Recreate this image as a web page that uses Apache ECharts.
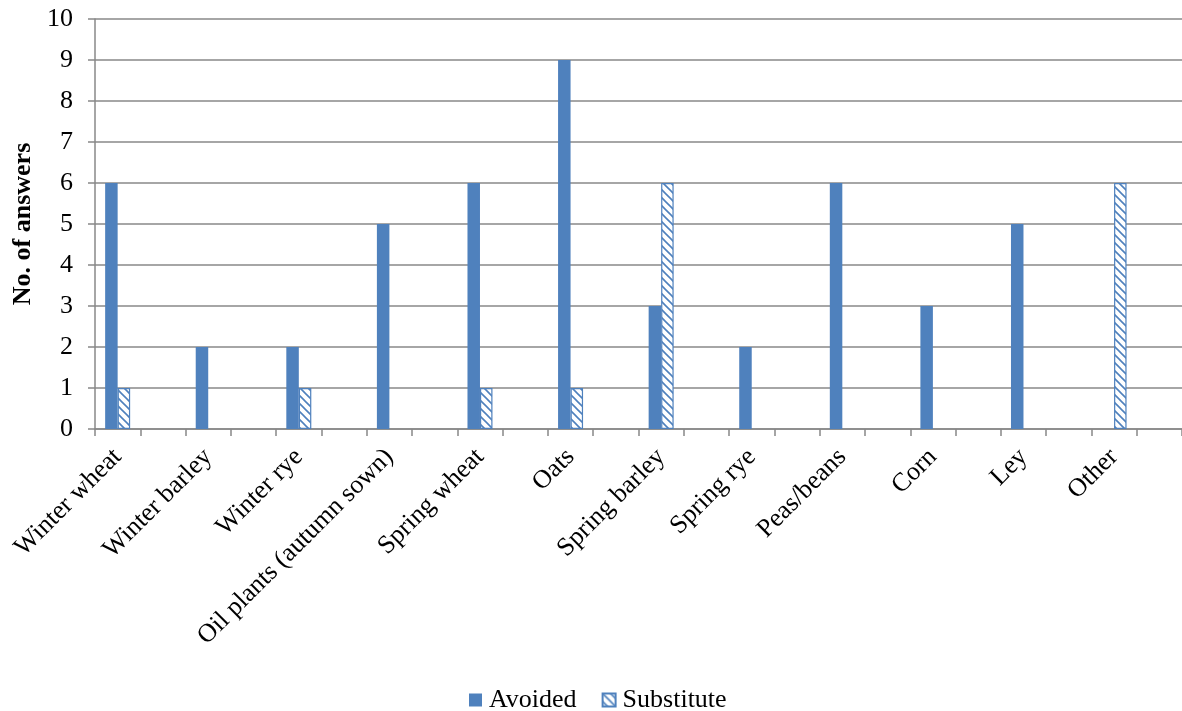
<!DOCTYPE html>
<html>
<head>
<meta charset="utf-8">
<script src="https://cdn.jsdelivr.net/npm/echarts@6/dist/echarts.min.js"></script>
<style>
html,body{margin:0;padding:0;background:#fff;}
#chart{width:1182px;height:711px;}
</style>
</head>
<body>
<div id="chart"></div>
<script>
var categories = ['Winter wheat','Winter barley','Winter rye','Oil plants (autumn sown)','Spring wheat','Oats','Spring barley','Spring rye','Peas/beans','Corn','Ley','Other'];
var avoided    = [6, 2, 2, 5, 6, 9, 3, 2, 6, 3, 5, 0];
var substitute = [1, 0, 1, 0, 1, 1, 6, 0, 0, 0, 0, 6];
var yTicks = [0,1,2,3,4,5,6,7,8,9,10];

// Axis has a blank slot after each labelled category (as in the source chart);
// zero answers draw no bar.
var axisCats = [], avData = [], subData = [];
categories.forEach(function(c, i){
  axisCats.push(c); axisCats.push('');
  avData.push(avoided[i] || null); avData.push(null);
  subData.push(substitute[i] || null); subData.push(null);
});

var blue = '#4F81BD';
var pc = document.createElement('canvas');
pc.width = 8; pc.height = 8;
var ctx = pc.getContext('2d');
ctx.fillStyle = '#fff'; ctx.fillRect(0,0,8,8);
ctx.strokeStyle = blue; ctx.lineWidth = 1.6;
ctx.beginPath();
ctx.moveTo(-2,-2); ctx.lineTo(10,10);
ctx.moveTo(-10,-2); ctx.lineTo(2,10);
ctx.moveTo(6,-2); ctx.lineTo(18,10);
ctx.stroke();

var font = 'Liberation Serif';
var fs = 26;
var chart = echarts.init(document.getElementById('chart'), null, {renderer:'canvas'});
chart.setOption({
  animation: false,
  textStyle: {fontFamily: font},
  grid: {left: 95, width: 1089, top: 19, height: 410, containLabel: false},
  legend: {
    top: 682, left: 464,
    itemWidth: 13, itemHeight: 13, itemGap: 25,
    textStyle: {fontFamily: font, fontSize: fs, color: '#000', padding: [0,0,0,2]},
    data: [{name:'Avoided', icon:'rect'}, {name:'Substitute', icon:'rect'}]
  },
  xAxis: {
    type: 'category',
    data: axisCats,
    axisLine: {lineStyle: {color: '#888', width: 1.5}},
    axisTick: {show: true, interval: 0, length: 7, lineStyle: {color: '#888', width: 1.5}},
    axisLabel: {interval: 0, rotate: 45, margin: 24, fontFamily: font, fontSize: fs, color: '#000'},
    splitLine: {show: false}
  },
  yAxis: {
    type: 'value',
    min: 0, max: 10, interval: 1,
    name: 'No. of answers',
    nameLocation: 'middle',
    nameGap: 57,
    nameTextStyle: {fontFamily: font, fontSize: fs, fontWeight: 'bold', color: '#000'},
    axisLine: {show: true, lineStyle: {color: '#888', width: 1.5}},
    axisTick: {show: true, length: 7, lineStyle: {color: '#888', width: 1.5}},
    axisLabel: {margin: 22, fontFamily: font, fontSize: fs, color: '#000',
      formatter: function(v){ return yTicks.indexOf(v) >= 0 ? String(v) : ''; }},
    splitLine: {show: true, lineStyle: {color: '#888', width: 1.5}}
  },
  series: [
    {name: 'Avoided', type: 'bar', data: avData, barWidth: 12.5, barGap: '0%',
     itemStyle: {color: blue}},
    {name: 'Substitute', type: 'bar', data: subData, barWidth: 12.5, barGap: '0%',
     itemStyle: {color: {image: pc, repeat: 'repeat'}, borderColor: blue, borderWidth: 1.2}}
  ]
});
</script>
</body>
</html>
